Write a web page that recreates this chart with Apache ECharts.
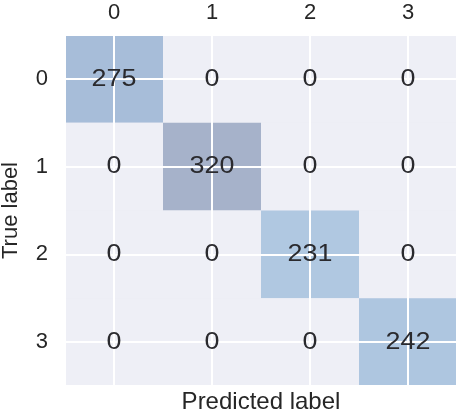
<!DOCTYPE html>
<html>
<head>
<meta charset="utf-8">
<script src="https://cdn.jsdelivr.net/npm/echarts@6/dist/echarts.min.js"></script>
<style>
html,body{margin:0;padding:0;background:#fff;}
#chart{width:474px;height:413px;}
</style>
</head>
<body>
<div id="chart"></div>
<script>
// Data
const predictedLabels = ['0', '1', '2', '3'];
const trueLabels = ['0', '1', '2', '3'];
const row0 = [275, 0, 0, 0];
const row1 = [0, 320, 0, 0];
const row2 = [0, 0, 231, 0];
const row3 = [0, 0, 0, 242];
const matrix = [row0, row1, row2, row3];

// Palette: matplotlib "Blues" at alpha 0.3 over the seaborn background
const palette = ['#EEEFF6','#E6EAF4','#DFE6F1','#D3E0ED','#C4D8EA','#B8D0E5','#AEC6E0','#A6BCD8','#A6B2CA'];

const cells = [];
matrix.forEach((row, yi) => row.forEach((v, xi) => cells.push([xi, yi, v])));
const maxVal = Math.max(...cells.map(c => c[2]));

const FONT = 'Liberation Sans, Arial, sans-serif';
const TXT = '#262626';
const chart = echarts.init(document.getElementById('chart'), null, {renderer: 'canvas'});

function tickFmt(labels) {
  return function (v) {
    const r = Math.round(v);
    return Math.abs(v - r) < 1e-6 && r >= 0 && r < labels.length ? labels[r] : '';
  };
}

chart.setOption({
  animation: false,
  backgroundColor: '#ffffff',
  grid: {left: 65, right: 17, top: 35, bottom: 27, show: true, backgroundColor: '#EAEAF2', borderWidth: 0,
         containLabel: false, outerBoundsMode: 'none'},
  visualMap: {show: false, min: 0, max: maxVal, dimension: 2, seriesIndex: 0, inRange: {color: palette}},
  xAxis: [{
    type: 'value', min: -0.5, max: 3.5, position: 'top', z: 3,
    axisLine: {show: false}, axisTick: {show: false},
    splitLine: {show: true, lineStyle: {color: '#ffffff', width: 2}},
    axisLabel: {formatter: tickFmt(predictedLabels), fontSize: 22, color: TXT, fontFamily: FONT, margin: 11, showMinLabel: false, showMaxLabel: false}
  }, {
    type: 'value', min: -0.5, max: 3.5, position: 'bottom',
    axisLine: {show: false}, axisTick: {show: false}, splitLine: {show: false},
    axisLabel: {show: false},
    name: 'Predicted label', nameLocation: 'middle', nameGap: 4,
    nameTextStyle: {fontSize: 24, color: TXT, fontFamily: FONT}
  }],
  yAxis: {
    type: 'value', min: -0.5, max: 3.5, inverse: true, z: 3,
    axisLine: {show: false}, axisTick: {show: false},
    splitLine: {show: true, lineStyle: {color: '#ffffff', width: 2}},
    axisLabel: {formatter: tickFmt(trueLabels), fontSize: 22, color: TXT, fontFamily: FONT, margin: 17, showMinLabel: false, showMaxLabel: false},
    name: 'True label', nameLocation: 'middle', nameGap: 43, nameRotate: 90,
    nameTextStyle: {fontSize: 22, color: TXT, fontFamily: FONT}
  },
  series: [{
    type: 'custom', z: 1,
    data: cells,
    encode: {x: 0, y: 1},
    renderItem: function (params, api) {
      const x = api.value(0), y = api.value(1);
      const a = api.coord([x - 0.5, y - 0.5]);
      const b = api.coord([x + 0.5, y + 0.5]);
      return {
        type: 'rect',
        shape: {x: Math.min(a[0], b[0]), y: Math.min(a[1], b[1]), width: Math.abs(b[0] - a[0]), height: Math.abs(b[1] - a[1])},
        style: {fill: api.visual('color')}
      };
    }
  }, {
    type: 'custom', z: 6,
    data: cells,
    encode: {x: 0, y: 1},
    renderItem: function (params, api) {
      const c = api.coord([api.value(0), api.value(1)]);
      return {
        type: 'text', x: c[0], y: c[1], scaleX: 1.12, scaleY: 1,
        style: {text: String(api.value(2)), x: 0, y: 0, align: 'center', verticalAlign: 'middle', fontSize: 24, fill: '#2a2a2e', fontFamily: FONT}
      };
    }
  }]
});
</script>
</body>
</html>
